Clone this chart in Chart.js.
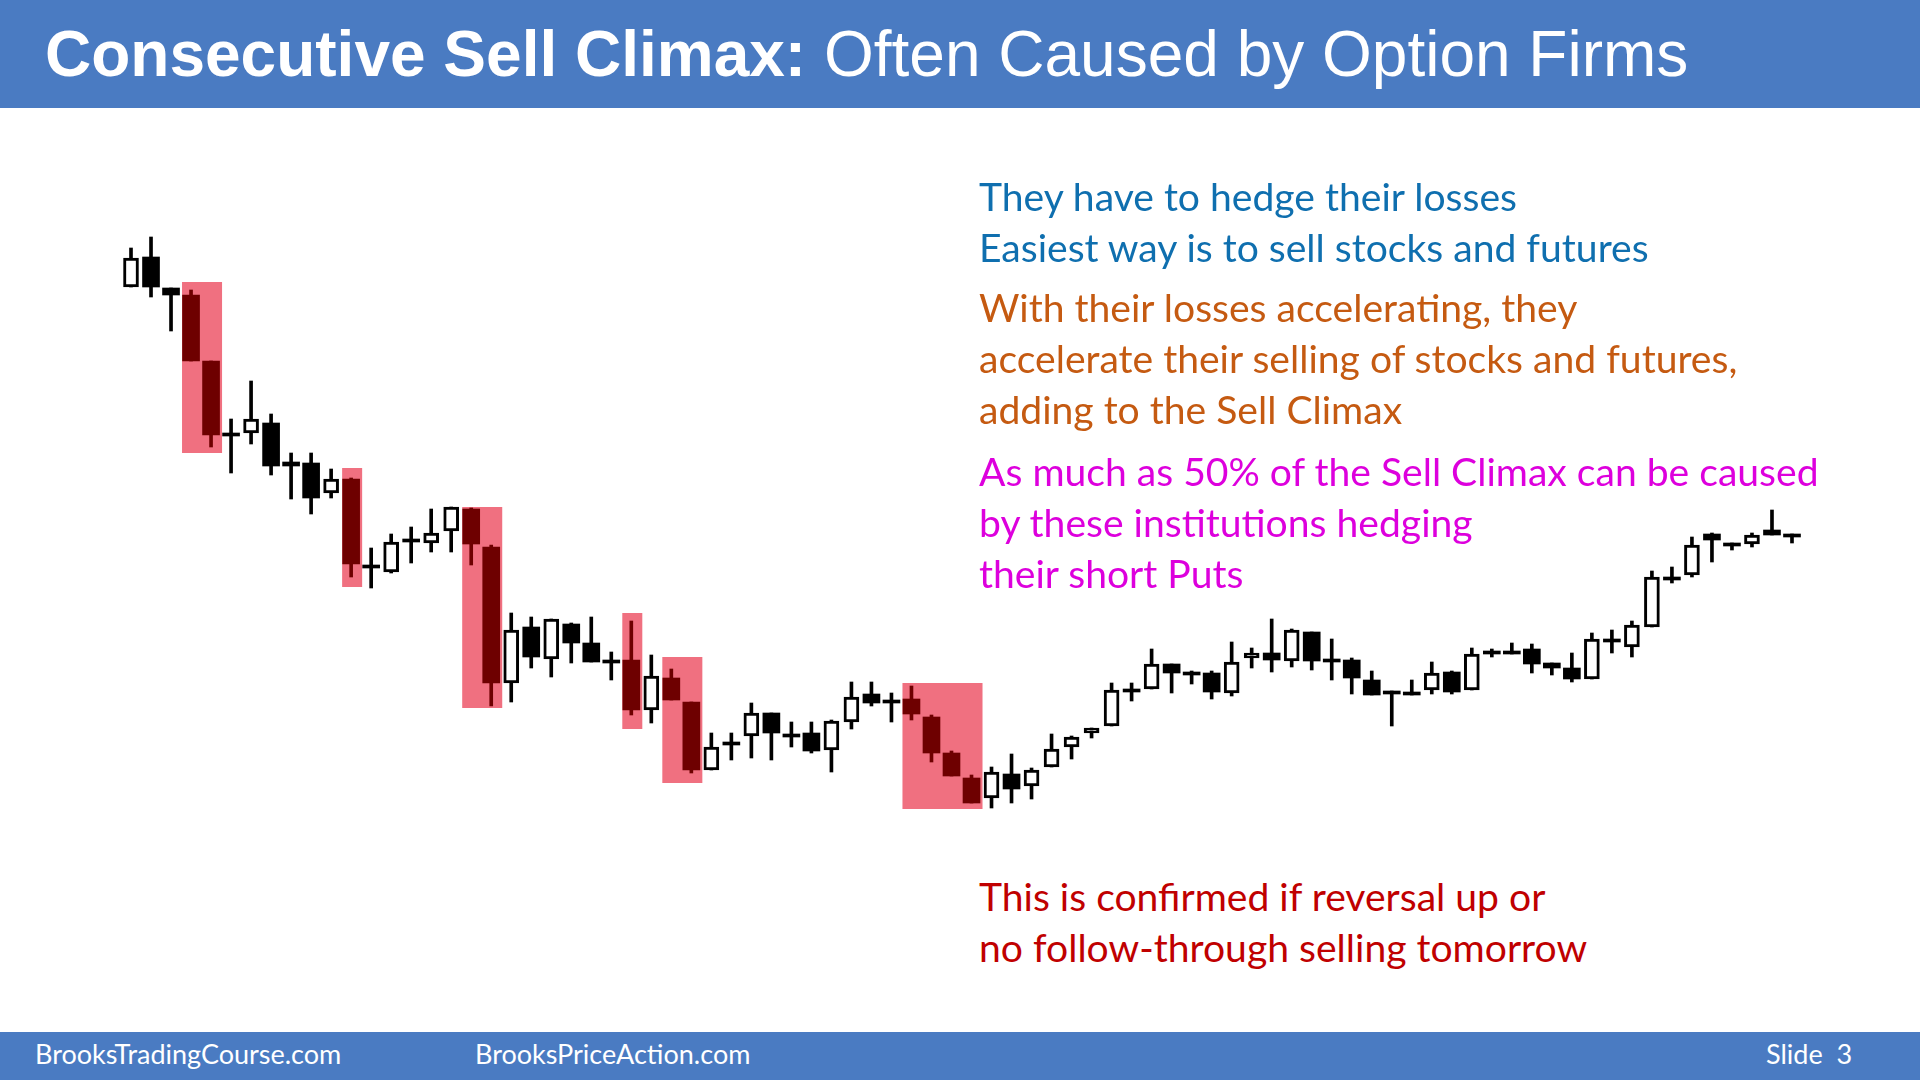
<!DOCTYPE html>
<html>
<head>
<meta charset="utf-8">
<script src="https://cdn.jsdelivr.net/npm/chart.js@4.4.0/dist/chart.umd.min.js"></script>
<style>
  html, body { margin: 0; padding: 0; width: 1920px; height: 1080px; overflow: hidden; background: #fff; }
  #header { position: absolute; left: 0; top: 0; width: 1920px; height: 108px; background: #4A7BC2; }
  #title { position: absolute; left: 45px; top: 22px; font-family: "Liberation Sans", Arial, sans-serif; font-size: 64px; line-height: 1; color: #fff; white-space: nowrap; }
  #title b { font-weight: bold; }
  #footer { position: absolute; left: 0; top: 1032px; width: 1920px; height: 48px; background: #4A7BC2; }
  .foot { position: absolute; top: 5px; font-family: Lato, sans-serif; font-size: 27px; color: #fff; white-space: nowrap; }
  #wrap { position: absolute; left: 0; top: 100px; width: 1920px; height: 740px; }
  .note { position: absolute; left: 979px; font-family: Lato, sans-serif; font-size: 39.1px; line-height: 51.4px; white-space: nowrap; }
</style>
</head>
<body>
<div id="header"><div id="title"><b>Consecutive Sell Climax:</b> Often Caused by Option Firms</div></div>

<div id="wrap"><canvas id="candles"></canvas></div>

<div class="note" style="top:169.5px; color:#0F6FAF;">They have to hedge their losses<br>Easiest way is to sell stocks and futures</div>
<div class="note" style="top:280.5px; color:#C55A11;">With their losses accelerating, they<br>accelerate their selling of stocks and futures,<br>adding to the Sell Climax</div>
<div class="note" style="top:444.5px; color:#DD00DD;">As much as 50% of the Sell Climax can be caused<br>by these institutions hedging<br>their short Puts</div>
<div class="note" style="top:869.5px; color:#C00000;">This is confirmed if reversal up or<br>no follow-through selling tomorrow</div>

<div id="footer">
  <div class="foot" style="left:35px;">BrooksTradingCourse.com</div>
  <div class="foot" style="left:475px;">BrooksPriceAction.com</div>
  <div class="foot" style="left:1766px;">Slide&nbsp;&nbsp;3</div>
</div>

<script>
// daily bars
var bars = Array.from({ length: 84 }, function (_, i) { return String(i + 1); });

var opens = [713, 743, 712, 705, 639, 567, 567, 577, 538, 537,
  507, 521, 435, 428, 461, 457, 469, 491, 453, 317,
  373, 341, 376, 357, 340, 340, 290, 322, 298, 230,
  258, 264, 287, 266, 267, 250, 278, 306, 300, 301,
  283, 247, 222, 202, 226, 214, 233, 253, 267, 274,
  311, 311, 336, 328, 327, 307, 342, 347, 339, 368,
  341, 340, 320, 309, 308, 310, 328, 310, 349, 349,
  351, 337, 332, 321, 361, 353, 373, 423, 425, 466,
  457, 456, 470, 466];

var highs = [752, 763, 712, 710, 639, 581, 619, 586, 547, 547,
  531, 522, 452, 466, 473, 491, 493, 492, 455, 387,
  383, 381, 377, 383, 348, 379, 345, 331, 298, 267,
  267, 297, 287, 278, 278, 280, 318, 318, 307, 314,
  285, 249, 225, 233, 246, 232, 266, 264, 272, 317,
  317, 351, 336, 329, 329, 358, 352, 381, 371, 368,
  361, 342, 329, 309, 320, 338, 329, 352, 351, 357,
  356, 337, 347, 367, 370, 379, 429, 433, 463, 467,
  457, 467, 490, 466];

var lows = [713, 703, 669, 639, 553, 527, 556, 525, 501, 486,
  502, 423, 412, 427, 437, 448, 448, 435, 294, 298,
  332, 323, 337, 338, 320, 285, 277, 300, 227, 230,
  240, 242, 240, 253, 247, 228, 271, 294, 278, 280,
  238, 224, 197, 192, 197, 201, 233, 241, 262, 274,
  299, 311, 307, 316, 301, 304, 332, 328, 333, 330,
  320, 306, 305, 274, 305, 306, 306, 310, 343, 346,
  327, 325, 318, 321, 347, 343, 373, 417, 423, 438,
  450, 453, 465, 457];

var closes = [742, 713, 705, 639, 565, 564, 581, 534, 534, 502,
  521, 436, 432, 458, 458, 467, 493, 456, 317, 370,
  343, 381, 357, 338, 337, 290, 324, 300, 230, 253,
  255, 287, 267, 263, 249, 279, 303, 297, 297, 286,
  247, 224, 197, 228, 211, 230, 251, 263, 272, 310,
  308, 336, 327, 325, 308, 338, 347, 340, 370, 339,
  338, 322, 305, 306, 305, 327, 308, 346, 346, 346,
  336, 332, 321, 361, 358, 375, 423, 420, 455, 460,
  454, 465, 465, 463];

// sell climax boxes: first bar, last bar (0-based), top and bottom price
var climaxFrom = [3, 11, 17, 25, 27, 39];
var climaxTo = [4, 11, 18, 25, 28, 42];
var climaxTop = [718, 532, 493, 387, 343, 317];
var climaxBottom = [547, 413, 292, 271, 217, 191];

function inClimax(i) {
  for (var k = 0; k < climaxFrom.length; k++) {
    if (i >= climaxFrom[k] && i <= climaxTo[k]) return true;
  }
  return false;
}
var barColors = bars.map(function (_, i) { return inClimax(i) ? '#6E0000' : '#000000'; });

var climaxBoxes = {
  id: 'climaxBoxes',
  beforeDatasetsDraw: function (chart) {
    var ctx = chart.ctx, xs = chart.scales.x, ys = chart.scales.y;
    var cw = xs.width / bars.length;
    ctx.save();
    ctx.fillStyle = '#F07080';
    for (var k = 0; k < climaxFrom.length; k++) {
      var x1 = xs.getPixelForValue(climaxFrom[k]) - cw * 0.45;
      var x2 = xs.getPixelForValue(climaxTo[k]) + cw * 0.55;
      var y1 = ys.getPixelForValue(climaxTop[k]);
      var y2 = ys.getPixelForValue(climaxBottom[k]);
      ctx.fillRect(x1, y1, x2 - x1, y2 - y1);
    }
    ctx.restore();
  }
};

var ctx = document.getElementById('candles').getContext('2d');
var myChart = new Chart(ctx, {
  type: 'bar',
  data: {
    labels: bars,
    datasets: [{
      label: 'up bodies',
      data: opens.map(function (o, i) { return closes[i] > o ? [o, closes[i]] : null; }),
      backgroundColor: '#ffffff',
      borderColor: barColors,
      borderWidth: 3,
      borderSkipped: false,
      barThickness: 15,
      grouped: false,
      order: 0
    }, {
      label: 'down bodies',
      data: opens.map(function (o, i) { return closes[i] <= o ? [closes[i], o] : null; }),
      backgroundColor: barColors,
      borderWidth: 0,
      barThickness: 17,
      grouped: false,
      order: 1
    }, {
      label: 'wicks',
      data: lows.map(function (l, i) { return [l, highs[i]]; }),
      backgroundColor: barColors,
      borderWidth: 0,
      barThickness: 3,
      grouped: false,
      order: 2
    }]
  },
  options: {
    responsive: true,
    maintainAspectRatio: false,
    animation: false,
    layout: { padding: { left: 121, right: 118, top: 100, bottom: 10 } },
    scales: {
      x: { display: false, offset: true },
      y: { display: false, min: 170, max: 800 }
    },
    plugins: {
      legend: { display: false },
      tooltip: { enabled: false }
    }
  },
  plugins: [climaxBoxes]
});
</script>
</body>
</html>
